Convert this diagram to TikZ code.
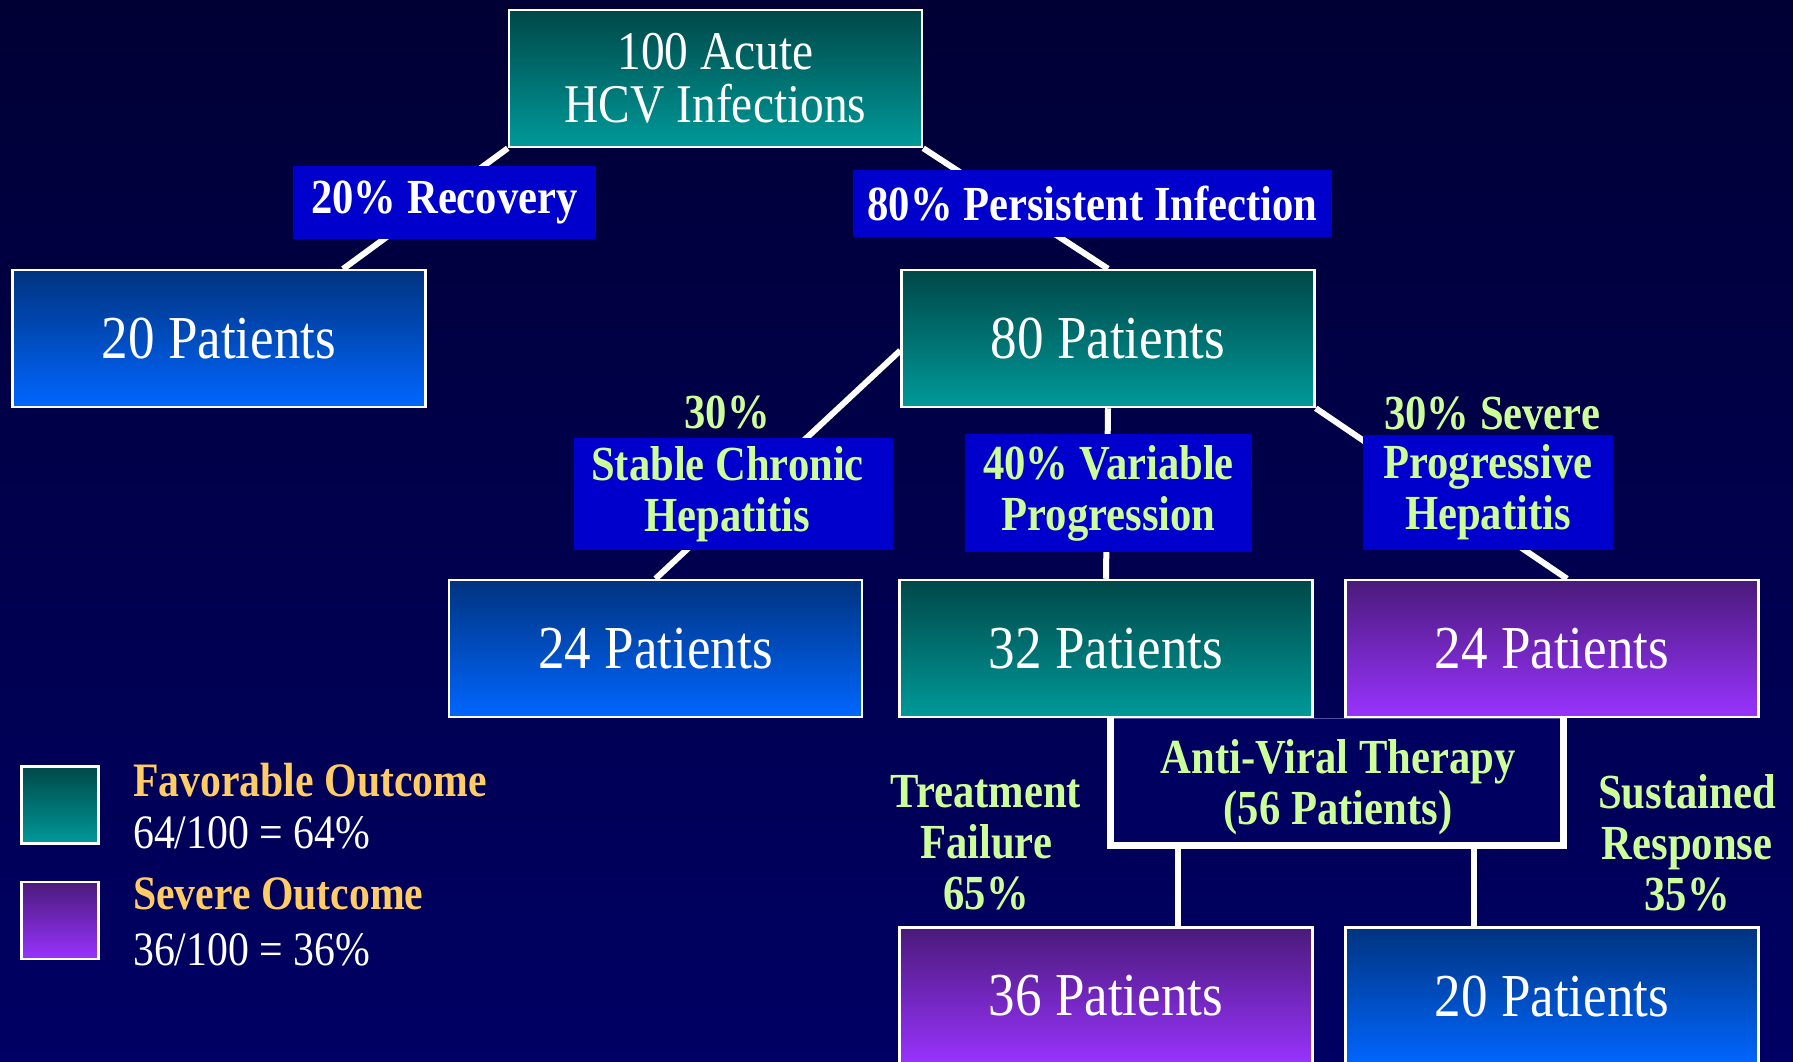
\documentclass[tikz,border=0pt]{standalone}
\usepackage{fontspec}
\setmainfont{Liberation Serif}[FakeStretch=0.87]
\usetikzlibrary{calc}
\definecolor{bgtop}{HTML}{000035}
\definecolor{bgbot}{HTML}{000064}
\definecolor{tealtop}{HTML}{004848}
\definecolor{tealbot}{HTML}{009999}
\definecolor{bluetop}{HTML}{00337F}
\definecolor{bluebot}{HTML}{0066FF}
\definecolor{purtop}{HTML}{4A1A7A}
\definecolor{purbot}{HTML}{9933FF}
\definecolor{labblue}{HTML}{0000CC}
\definecolor{labgreen}{HTML}{CCFF99}
\definecolor{legorange}{HTML}{FFCC66}
\definecolor{avfill}{HTML}{000060}
\definecolor{avedge}{HTML}{5050A0}
\pgfdeclarelayer{bg}
\pgfdeclarelayer{wires}
\pgfsetlayers{bg,wires,main}
\begin{document}
\begin{tikzpicture}[x=1pt,y=-1pt,
  box/.style={draw=white,line width=2.5pt,minimum width=413pt,minimum height=137pt,inner sep=0pt,text=white,font=\fontsize{61}{62}\selectfont},
  favbox/.style={box,top color=tealtop,bottom color=tealbot},
  bluebox/.style={box,top color=bluetop,bottom color=bluebot},
  sevbox/.style={box,top color=purtop,bottom color=purbot},
  lab/.style={fill=labblue,inner sep=0pt,align=center,text=labgreen,font=\bfseries\fontsize{49}{51}\selectfont},
  gtext/.style={inner sep=0pt,align=center,text=labgreen,font=\bfseries\fontsize{49}{51}\selectfont},
  wire/.style={draw=white,line width=6pt},
  bracket/.style={draw=white,line width=7pt,line join=miter},
  legsq/.style={draw=white,line width=2.5pt,minimum width=77pt,minimum height=77pt,inner sep=0pt},
  legtitle/.style={anchor=west,inner sep=0pt,text=legorange,font=\bfseries\fontsize{48}{52}\selectfont},
  legval/.style={anchor=west,inner sep=0pt,text=white,font=\fontsize{48}{52}\selectfont}
]
\begin{pgfonlayer}{bg}
\shade[top color=bgtop,bottom color=bgbot] (0,0) rectangle (1793,1061);
\end{pgfonlayer}
\useasboundingbox (0,0) rectangle (1793,1061);

% main boxes
\node[favbox,align=center,font=\fontsize{54.5}{53}\selectfont] (top) at (715.5,78.5) {100 Acute\\HCV Infections};
\node[bluebox] (p20a) at (219,338.5) {20 Patients};
\node[favbox] (p80) at (1108,338.5) {80 Patients};
\node[bluebox] (p24a) at (655.5,648.5) {24 Patients};
\node[favbox] (p32) at (1106,648.5) {32 Patients};
\node[sevbox] (p24b) at (1552,648.5) {24 Patients};
\node[sevbox] (p36) at (1106,996) {36 Patients};
\node[bluebox] (p20b) at (1552,996) {20 Patients};

% branch labels
\node[lab,text=white,minimum width=303pt,minimum height=73pt] (lrec) at (444.5,202.5) {20\% Recovery};
\node[lab,text=white,minimum width=479pt,minimum height=67pt] (lper) at (1092.5,203.5) {80\% Persistent Infection};
\node[lab,minimum width=319pt,minimum height=112pt] (lstab) at (733.5,494) {Stable Chronic\hspace*{12pt}\\Hepatitis\hspace*{12pt}};
\node[gtext] (tstab) at (727,413) {30\%};
\node[lab,minimum width=287pt,minimum height=118pt] (lvar) at (1108.5,493) {40\% Variable\\Progression};
\node[lab,minimum width=250pt,minimum height=115pt] (lsev) at (1488,492.5) {Progressive\\Hepatitis};
\node[gtext] (tsev) at (1492,414) {30\% Severe};

% anti-viral therapy
\node[fill=avfill,draw=avedge,line width=1pt,minimum width=452pt,minimum height=127pt,inner sep=0pt] (av) at (1337,781.5) {};
\node[gtext] (avt) at (1338,787) {Anti-Viral Therapy\\(56 Patients)};
\node[gtext] (tfail) at (986,843) {Treatment\\Failure\\65\%};
\node[gtext] (tsus) at (1687,843) {Sustained\\Response\\35\%};

\coordinate (c1) at (343,269);
\coordinate (f1) at (1178,845);
\coordinate (f2) at (1474,845);

\begin{pgfonlayer}{wires}
\draw[wire] (top.south west) -- (c1);
\draw[wire] (top.south east) -- (p80.north);
\draw[wire] ([yshift=-12pt]p80.west) -- (p24a.north);
\draw[wire] (p80.south) -- (p32.north);
\draw[wire] (p80.south east) -- ([xshift=15pt]p24b.north);
\draw[wire] (f1) -- (f1 |- p36.north);
\draw[wire] (f2) -- (f2 |- p20b.north);
\end{pgfonlayer}
\draw[bracket] (p32.south -| av.west) -- (av.south west) -- (av.south east) -- (p24b.south -| av.east);

% legend
\node[legsq,top color=tealtop,bottom color=tealbot] (leg1) at (60,805) {};
\node[legsq,top color=purtop,bottom color=purbot] (leg2) at (60,920.5) {};
\node[legtitle] (legt1) at (133,780) {Favorable Outcome};
\node[legval] (legv1) at (133,833) {64/100 = 64\%};
\node[legtitle] (legt2) at (133,894) {Severe Outcome};
\node[legval] (legv2) at (133,950) {36/100 = 36\%};
\end{tikzpicture}
\end{document}
